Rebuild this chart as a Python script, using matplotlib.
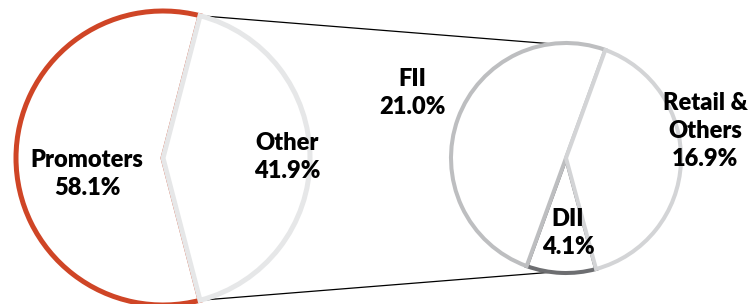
import numpy as np
import matplotlib.pyplot as plt
import matplotlib
matplotlib.rcParams.update({'font.family': ['Lato', 'DejaVu Sans']})

# main pie
main_labels = ['Promoters', 'Other']
main_values = [58.1, 41.9]
main_colors = ['#CF4526', '#E6E7E8']

# breakdown of "Other"
sub_labels = ['FII', 'DII', 'Retail &\nOthers']
sub_values = [21.0, 4.1, 16.9]
sub_colors = ['#BDBEC0', '#6D6E71', '#D3D4D6']

W, H = 755, 304
fig = plt.figure(figsize=(W / 100, H / 100), dpi=100)
ax = fig.add_axes([0, 0, 1, 1])

c1, r1 = (163, 146), 147
c2, r2 = (566, 146), 115

# left pie, "Other" wedge centred on 0 degrees
start1 = 180 * main_values[1] / 100
w1, _ = ax.pie(main_values, center=c1, radius=r1, startangle=start1,
               colors=['white'] * 2, frame=True,
               wedgeprops=dict(linewidth=3.6))
for w, col in zip(w1, main_colors):
    w.set_edgecolor(col)
w1[1].set_zorder(3)

# right pie
w2, _ = ax.pie(sub_values, center=c2, radius=r2, startangle=70,
               colors=['white'] * 3, frame=True,
               wedgeprops=dict(linewidth=2.9))
for w, col in zip(w2, sub_colors):
    w.set_edgecolor(col)
w2[1].set_zorder(2)
w2[0].set_zorder(3)
w2[2].set_zorder(3)

ax.set_xlim(0, W)
ax.set_ylim(0, H)
ax.set_aspect('equal')
ax.axis('off')

# connector lines
a_left = np.deg2rad(start1)
a_right = np.deg2rad(97)
for s in (1, -1):
    x0 = c1[0] + r1 * np.cos(a_left)
    y0 = c1[1] + s * r1 * np.sin(a_left)
    x1 = c2[0] + r2 * np.cos(a_right)
    y1 = c2[1] + s * r2 * np.sin(a_right)
    ax.plot([x0, x1], [y0, y1], color='black', lw=0.9, zorder=1)

# labels
tk = dict(ha='center', va='center', fontsize=17, fontweight='heavy',
          linespacing=1.32, zorder=5)
main_pos = [(87, 130), (287, 147)]
for lab, v, p in zip(main_labels, main_values, main_pos):
    ax.text(p[0], p[1], f'{lab}\n{v:.1f}%', **tk)
sub_pos = [(412, 211), (568, 71), (705, 173)]
for lab, v, p in zip(sub_labels, sub_values, sub_pos):
    ax.text(p[0], p[1], f'{lab}\n{v:.1f}%', **tk)

fig.savefig('out.png', dpi=100)
